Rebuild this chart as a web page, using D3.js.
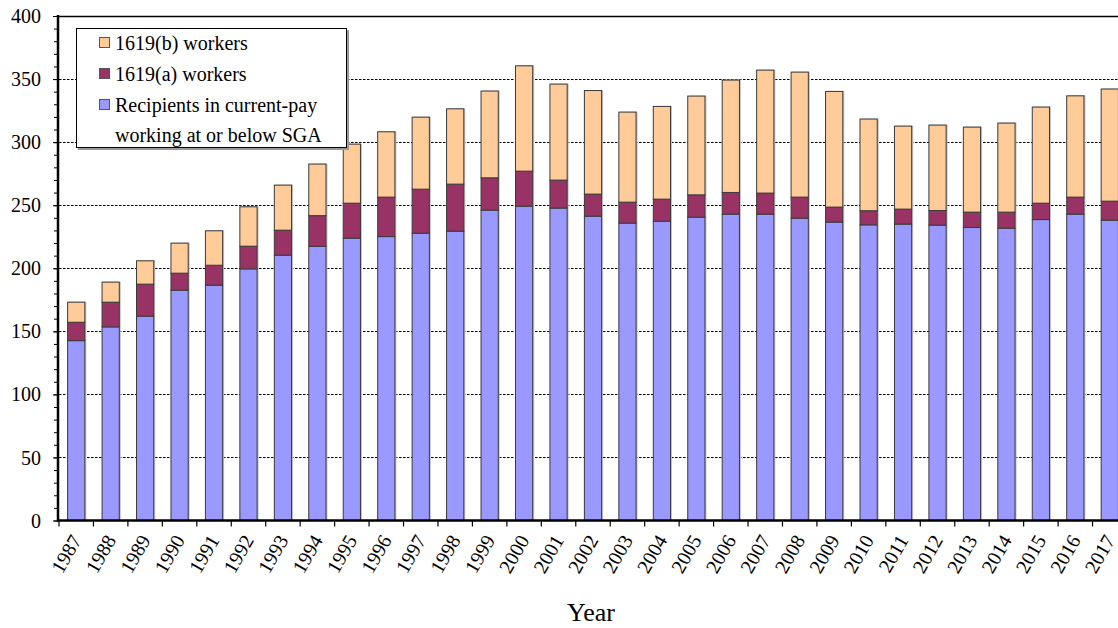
<!DOCTYPE html>
<html>
<head>
<meta charset="utf-8">
<script src="https://cdn.jsdelivr.net/npm/d3@7"></script>
<style>
  html, body { margin: 0; padding: 0; background: #fff; }
  svg { display: block; overflow: hidden; }
  text { font-family: "Liberation Serif", "Times New Roman", serif; fill: #000; }
</style>
</head>
<body>
<div id="chart"></div>
<script>
// values (thousands of people)
const years = d3.range(1987, 2018).map(String);
const currentPay = [142.6, 153.5, 162.0, 182.6, 186.6, 199.5, 210.4, 217.4, 223.9, 225.1,
  227.8, 229.4, 246.1, 249.2, 247.7, 241.3, 235.8, 237.3, 240.5, 242.9,
  242.9, 239.7, 236.6, 234.4, 235.0, 234.2, 232.3, 231.8, 238.6, 242.9, 238.1];
const workers1619a = [14.6, 19.6, 25.4, 13.5, 15.8, 18.0, 19.8, 24.3, 27.7, 31.3,
  34.9, 37.3, 25.6, 27.8, 22.2, 17.5, 16.6, 17.5, 17.7, 17.2,
  16.7, 16.7, 11.9, 11.2, 11.9, 11.6, 12.2, 12.7, 13.0, 13.5, 15.1];
const workers1619b = [15.9, 15.9, 18.5, 23.8, 27.3, 31.2, 35.7, 40.9, 46.8, 51.8,
  57.1, 59.7, 68.8, 83.5, 76.1, 82.1, 71.4, 73.5, 78.3, 89.1,
  97.5, 99.1, 91.7, 72.7, 65.8, 67.7, 67.4, 70.6, 76.2, 80.3, 88.9];

const seriesKeys = ['pay', 'a', 'b'];
const seriesColor = { pay: '#9999ff', a: '#993366', b: '#ffcc99' };
const legendItems = [
  { key: 'b', lines: ['1619(b) workers'] },
  { key: 'a', lines: ['1619(a) workers'] },
  { key: 'pay', lines: ['Recipients in current-pay', 'working at or below SGA'] },
];
const yMajorTicks = d3.range(0, 401, 50);
const yMinorTicks = d3.range(0, 401, 10);

const width = 1118;
const height = 628;
// the plot runs a little past the right edge of the picture, as in the original
const plot = { left: 59, right: 1127, top: 16, bottom: 520.5 };

const rows = years.map((year, i) => ({ year, pay: currentPay[i], a: workers1619a[i], b: workers1619b[i] }));
const stacked = d3.stack().keys(seriesKeys)(rows);

const svg = d3.select('#chart').append('svg')
  .attr('width', width)
  .attr('height', height);

const x = d3.scaleBand()
  .domain(years)
  .range([plot.left, plot.right])
  .paddingInner(0.5)
  .paddingOuter(0.25);

const y = d3.scaleLinear()
  .domain([0, 400])
  .range([plot.bottom, plot.top]);

// --- dashed grid lines, solid line at the top ---
svg.append('g')
  .selectAll('line')
  .data(yMajorTicks.filter(d => d > 0))
  .join('line')
  .attr('x1', plot.left)
  .attr('x2', width)
  .attr('y1', d => Math.round(y(d)) + 0.5)
  .attr('y2', d => Math.round(y(d)) + 0.5)
  .attr('stroke', '#000')
  .attr('stroke-width', d => d === 400 ? 1.5 : 1)
  .attr('stroke-dasharray', d => d === 400 ? null : '2.5,1.5');

// --- bars ---
const shadow = svg.append('g');
shadow.selectAll('rect')
  .data(rows)
  .join('rect')
  .attr('x', d => x(d.year) + 1.5)
  .attr('y', d => y(d.pay + d.a + d.b) - 0.5)
  .attr('width', x.bandwidth())
  .attr('height', d => y(0) - y(d.pay + d.a + d.b))
  .attr('fill', '#c4c4c4');

svg.append('g')
  .selectAll('g')
  .data(stacked)
  .join('g')
  .attr('fill', s => seriesColor[s.key])
  .selectAll('rect')
  .data(s => s)
  .join('rect')
  .attr('x', d => x(d.data.year))
  .attr('y', d => y(d[1]))
  .attr('width', x.bandwidth())
  .attr('height', d => y(d[0]) - y(d[1]))
  .attr('stroke', '#3a3a3a')
  .attr('stroke-width', 1);

// --- y axis ---
const yAxisMinor = svg.append('g')
  .attr('transform', `translate(${plot.left - 1},0)`)
  .call(d3.axisLeft(y).tickValues(yMinorTicks).tickSize(4).tickFormat(''));
yAxisMinor.select('.domain').remove();
yAxisMinor.selectAll('line').attr('stroke', '#000').attr('stroke-width', 1);

const yAxis = svg.append('g')
  .attr('transform', `translate(${plot.left - 1},0)`)
  .call(d3.axisLeft(y).tickValues(yMajorTicks).tickSize(5).tickPadding(12));
yAxis.select('.domain').remove();
yAxis.selectAll('line').attr('stroke', '#000');
yAxis.selectAll('text')
  .attr('font-size', 20)
  .attr('font-family', '"Liberation Serif", "Times New Roman", serif')
  .attr('dy', '0.33em');

svg.append('line')
  .attr('x1', plot.left - 1)
  .attr('x2', plot.left - 1)
  .attr('y1', plot.top - 1)
  .attr('y2', plot.bottom + 1)
  .attr('stroke', '#000')
  .attr('stroke-width', 2.5);

// --- x axis: ticks sit on the band boundaries ---
const step = x.step();
const boundaries = years.map(yr => x(yr) + x.bandwidth() / 2 - step / 2).concat([plot.right]);
svg.append('g')
  .selectAll('line')
  .data(boundaries)
  .join('line')
  .attr('x1', d => d)
  .attr('x2', d => d)
  .attr('y1', plot.bottom)
  .attr('y2', plot.bottom + 6)
  .attr('stroke', '#000')
  .attr('stroke-width', 1.2);

svg.append('line')
  .attr('x1', plot.left - 2)
  .attr('x2', width)
  .attr('y1', plot.bottom)
  .attr('y2', plot.bottom)
  .attr('stroke', '#000')
  .attr('stroke-width', 2.5);

svg.append('g')
  .selectAll('text')
  .data(years)
  .join('text')
  .attr('transform', d => `translate(${x(d) + x.bandwidth() / 2 + 6},540) rotate(-60)`)
  .attr('text-anchor', 'end')
  .attr('font-size', 20)
  .text(d => d);

svg.append('text')
  .attr('x', 591)
  .attr('y', 621)
  .attr('text-anchor', 'middle')
  .attr('font-size', 26)
  .text('Year');

// --- legend ---
const legend = svg.append('g').attr('transform', 'translate(76,28)');
legend.append('rect')
  .attr('x', 2).attr('y', 2)
  .attr('width', 271).attr('height', 120)
  .attr('fill', '#9a9a9a');
legend.append('rect')
  .attr('x', 0.5).attr('y', 0.5)
  .attr('width', 270).attr('height', 119)
  .attr('fill', '#fff')
  .attr('stroke', '#000')
  .attr('stroke-width', 1);

let row = 0;
for (const item of legendItems) {
  const cy = 15 + row * 31;
  legend.append('rect')
    .attr('x', 23.5).attr('y', cy - 5.5)
    .attr('width', 10).attr('height', 10)
    .attr('fill', seriesColor[item.key])
    .attr('stroke', '#555');
  item.lines.forEach((line, k) => {
    legend.append('text')
      .attr('x', 39)
      .attr('y', cy + 7 + k * 30)
      .attr('font-size', 20)
      .text(line);
  });
  row += item.lines.length;
}
</script>
</body>
</html>
